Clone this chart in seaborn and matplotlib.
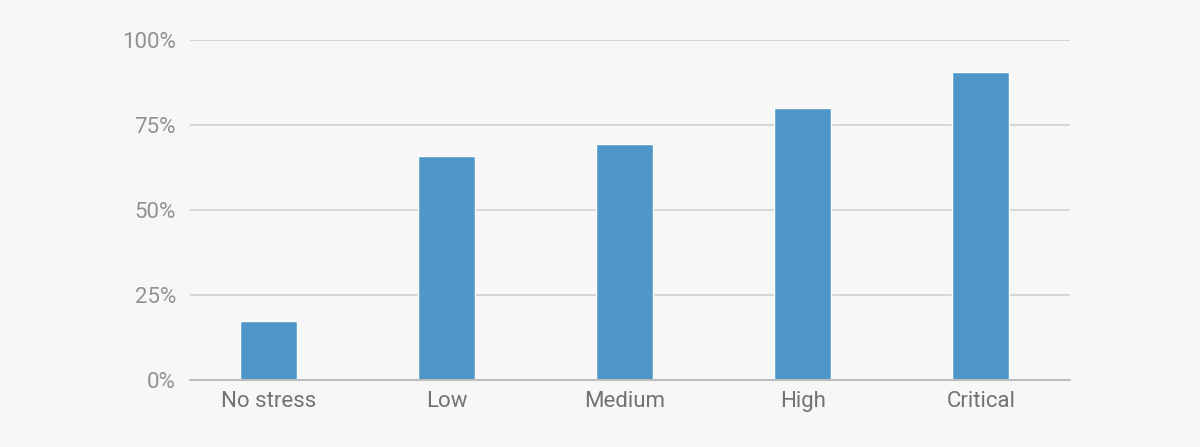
import matplotlib
matplotlib.use("Agg")
import matplotlib.pyplot as plt
import seaborn as sns
import pandas as pd
from matplotlib.ticker import FuncFormatter

categories = ["No stress", "Low", "Medium", "High", "Critical"]
values = [17.5, 66.0, 69.5, 80.0, 90.6]
yticks = [0, 25, 50, 75, 100]

sns.set_theme(style="white")
plt.rcParams["font.family"] = ["Roboto", "DejaVu Sans"]

df = pd.DataFrame({"cat": categories, "val": values})

fig = plt.figure(figsize=(12, 4.47), dpi=100)
fig.patch.set_facecolor("#f7f7f7")
ax = fig.add_axes([190/1200, 67/447, 880/1200, 340/447])
ax.set_facecolor("#f7f7f7")

sns.barplot(data=df, x="cat", y="val", color="#4e97c8", saturation=1,
            width=0.32, ax=ax, zorder=3)

ax.set_ylim(0, 100)
ax.set_xlim(-0.44, 4.50)
ax.set_yticks(yticks)
ax.yaxis.set_major_formatter(FuncFormatter(lambda v, p: f"{int(v)}%"))
ax.grid(axis="y", color="#d0d0d0", linewidth=1.2, zorder=0)
ax.grid(axis="x", visible=False)
for s in ["top", "right", "left"]:
    ax.spines[s].set_visible(False)
ax.spines["bottom"].set_color("#bdbdbd")
ax.spines["bottom"].set_linewidth(1.5)
ax.spines["bottom"].set_zorder(4)
ax.set_xlabel("")
ax.set_ylabel("")
ax.tick_params(axis="y", length=0, pad=10, labelsize=16, labelcolor="#929292")
ax.tick_params(axis="x", length=0, pad=8, labelsize=16, labelcolor="#737373")
for lab in ax.get_xticklabels() + ax.get_yticklabels():
    lab.set_fontweight("normal")

fig.savefig("out.png", dpi=100, facecolor=fig.get_facecolor())
